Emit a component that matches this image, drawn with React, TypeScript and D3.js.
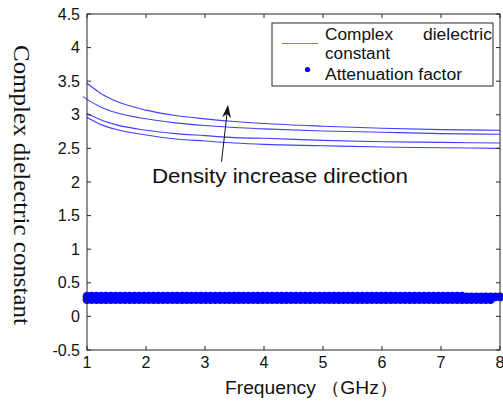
import React from 'react';
import * as d3 from 'd3';

// Complex dielectric constant curves (four densities)
const freqA = [1, 1.25, 1.5, 2, 2.5, 3, 3.5, 4, 5, 6, 7, 8];
const eps1 = [3.47, 3.31, 3.2, 3.07, 2.99, 2.94, 2.9, 2.87, 2.83, 2.8, 2.78, 2.77];
const freqB = [0.93, 1, 1.25, 1.5, 2, 2.5, 3, 3.5, 4, 5, 6, 7, 8];
const eps2 = [3.27, 3.23, 3.11, 3.03, 2.94, 2.88, 2.84, 2.81, 2.79, 2.76, 2.74, 2.72, 2.71];
const eps3 = [3.02, 2.92, 2.85, 2.77, 2.72, 2.69, 2.66, 2.65, 2.62, 2.6, 2.59, 2.58];
const eps4 = [2.96, 2.85, 2.78, 2.7, 2.64, 2.61, 2.58, 2.56, 2.54, 2.52, 2.51, 2.5];

// Attenuation factor samples (two overlapping rows of markers)
const attA = [
  0.3, 0.3, 0.3, 0.3, 0.3, 0.3, 0.3, 0.3, 0.3, 0.3, 0.3, 0.3, 0.3, 0.3, 0.3, 0.3, 0.3, 0.3, 0.3, 0.3, 0.3, 0.3,
  0.3, 0.3, 0.3, 0.3, 0.3, 0.3, 0.3, 0.3, 0.3, 0.3, 0.3, 0.3, 0.3, 0.3, 0.3, 0.3, 0.3, 0.3, 0.3, 0.3, 0.3, 0.3,
  0.3, 0.3, 0.3, 0.3, 0.3, 0.3, 0.3, 0.3, 0.3, 0.3, 0.3, 0.3, 0.3, 0.3, 0.3, 0.3, 0.3, 0.3, 0.3, 0.3, 0.3, 0.3,
  0.3, 0.3, 0.3, 0.3, 0.3, 0.3, 0.3, 0.3, 0.3, 0.3, 0.3, 0.3, 0.3, 0.3, 0.29, 0.29, 0.29, 0.29, 0.29, 0.29, 0.29, 0.29,
];
const attB = [
  0.25, 0.25, 0.25, 0.25, 0.25, 0.25, 0.25, 0.25, 0.25, 0.25, 0.25, 0.25, 0.25, 0.25, 0.25, 0.25, 0.25, 0.25, 0.25, 0.25, 0.25, 0.25,
  0.25, 0.25, 0.25, 0.25, 0.25, 0.25, 0.25, 0.25, 0.25, 0.25, 0.25, 0.25, 0.25, 0.25, 0.25, 0.25, 0.25, 0.25, 0.25, 0.25, 0.25, 0.25,
  0.25, 0.25, 0.25, 0.25, 0.25, 0.25, 0.25, 0.25, 0.25, 0.25, 0.25, 0.25, 0.25, 0.25, 0.25, 0.25, 0.25, 0.25, 0.25, 0.25, 0.25, 0.25,
  0.25, 0.25, 0.25, 0.25, 0.25, 0.25, 0.25, 0.25, 0.25, 0.25, 0.25, 0.25, 0.25, 0.25, 0.25, 0.25, 0.25, 0.25, 0.25, 0.25,
];

const xTicks = [1, 2, 3, 4, 5, 6, 7, 8];
const yTicks = [-0.5, 0, 0.5, 1, 1.5, 2, 2.5, 3, 3.5, 4, 4.5];

const legendLabels = ['Complex', 'dielectric', 'constant', 'Attenuation factor'];
const annotation = 'Density increase direction';
const xLabel = 'Frequency \uFF08GHz\uFF09';
const yLabel = 'Complex dielectric constant';

// annotation geometry in data units
const arrowFrom = { f: 3.28, v: 2.3 };
const arrowTo = { f: 3.39, v: 3.15 };
const annotPos = { f: 2.1, v: 1.985 };

const W = 503;
const H = 401;
const L = 87, R = 500, T = 14, B = 350;

export default function App() {
  const x = d3.scaleLinear().domain([1, 8]).range([L, R]);
  const y = d3.scaleLinear().domain([-0.5, 4.5]).range([B, T]);
  const line = d3
    .line<[number, number]>()
    .x((d) => x(d[0]))
    .y((d) => y(d[1]))
    .curve(d3.curveMonotoneX);

  const curves: [number, number][][] = [
    freqA.map((f, i) => [f, eps1[i]]),
    freqB.map((f, i) => [f, eps2[i]]),
    freqA.map((f, i) => [f, eps3[i]]),
    freqA.map((f, i) => [f, eps4[i]]),
  ];

  const n = attA.length;
  const dotFreq = attA.map((_, i) => 1 + (i * 7) / (n - 1));

  const font = 'Liberation Sans, Arial, sans-serif';
  const lineColor = '#4040ff';
  const axisColor = '#262626';

  // arrow head
  const x0 = x(arrowFrom.f), y0 = y(arrowFrom.v);
  const x1 = x(arrowTo.f), y1 = y(arrowTo.v);
  const ang = Math.atan2(y1 - y0, x1 - x0);
  const hl = 13, hw = 4.5;
  const bx = x1 - hl * Math.cos(ang), by = y1 - hl * Math.sin(ang);
  const nx = -Math.sin(ang), ny = Math.cos(ang);
  const notchX = x1 - hl * 0.7 * Math.cos(ang), notchY = y1 - hl * 0.7 * Math.sin(ang);
  const head = `M${x1},${y1} L${bx + nx * hw},${by + ny * hw} L${notchX},${notchY} L${bx - nx * hw},${by - ny * hw} Z`;

  return (
    <svg width={W} height={H} style={{ position: 'absolute', left: 0, top: 0, background: '#fff' }}>
      <rect x={0} y={0} width={W} height={H} fill="#fff" />
      {/* curves */}
      {curves.map((c, i) => (
        <path key={i} d={line(c) || ''} fill="none" stroke={lineColor} strokeWidth={1.1} />
      ))}
      {/* attenuation markers */}
      {attB.map((v, i) => (
        <circle key={'b' + i} cx={x(dotFreq[i])} cy={y(v)} r={4.4} fill="#0000ff" />
      ))}
      {attA.map((v, i) => (
        <circle key={'a' + i} cx={x(dotFreq[i])} cy={y(v)} r={4.4} fill="#0000ff" />
      ))}

      {/* axes box */}
      <rect x={L} y={T} width={R - L} height={B - T} fill="none" stroke={axisColor} strokeWidth={1} />
      {xTicks.map((t) => (
        <g key={'xt' + t}>
          <line x1={x(t)} x2={x(t)} y1={B} y2={B - 4} stroke={axisColor} />
          <line x1={x(t)} x2={x(t)} y1={T} y2={T + 4} stroke={axisColor} />
          <text x={x(t)} y={367.5} textAnchor="middle" fontFamily={font} fontSize={16} fill="#111">
            {t}
          </text>
        </g>
      ))}
      {yTicks.map((t) => (
        <g key={'yt' + t}>
          <line x1={L} x2={L + 4} y1={y(t)} y2={y(t)} stroke={axisColor} />
          <line x1={R} x2={R - 4} y1={y(t)} y2={y(t)} stroke={axisColor} />
          <text x={80} y={y(t) + 5.5} textAnchor="end" fontFamily={font} fontSize={16} fill="#111">
            {String(t)}
          </text>
        </g>
      ))}

      {/* axis labels */}
      <text x={225} y={394.3} fontFamily={font} fontSize={18} fill="#111" textLength={173} lengthAdjust="spacingAndGlyphs">
        {xLabel}
      </text>
      <text
        transform={`translate(13.5,185) rotate(90)`}
        textAnchor="middle"
        fontFamily="Liberation Serif, Times New Roman, serif"
        fontSize={22.5}
        fill="#111"
        textLength={280}
        lengthAdjust="spacingAndGlyphs"
      >
        {yLabel}
      </text>

      {/* annotation */}
      <line x1={x0} y1={y0} x2={bx + (x1 - bx) * 0.3} y2={by + (y1 - by) * 0.3} stroke="#111" strokeWidth={1} />
      <path d={head} fill="#111" />
      <text x={x(annotPos.f)} y={y(annotPos.v)} fontFamily={font} fontSize={19.5} fill="#111" textLength={256} lengthAdjust="spacingAndGlyphs">
        {annotation}
      </text>

      {/* legend */}
      <rect x={272} y={23} width={221} height={63} fill="#fff" stroke={axisColor} strokeWidth={1} />
      <line x1={282} x2={318} y1={43.5} y2={43.5} stroke="#7878ff" strokeWidth={1.2} />
      <text x={325} y={39.5} fontFamily={font} fontSize={16} fill="#111" textLength={68} lengthAdjust="spacingAndGlyphs">{legendLabels[0]}</text>
      <text x={492} y={39.5} textAnchor="end" fontFamily={font} fontSize={16} fill="#111" textLength={69} lengthAdjust="spacingAndGlyphs">{legendLabels[1]}</text>
      <text x={325} y={58.5} fontFamily={font} fontSize={16} fill="#111" textLength={65} lengthAdjust="spacingAndGlyphs">{legendLabels[2]}</text>
      <circle cx={307.5} cy={69.5} r={2.6} fill="#0000ff" />
      <text x={325} y={79.5} fontFamily={font} fontSize={16} fill="#111" textLength={137} lengthAdjust="spacingAndGlyphs">{legendLabels[3]}</text>
    </svg>
  );
}
